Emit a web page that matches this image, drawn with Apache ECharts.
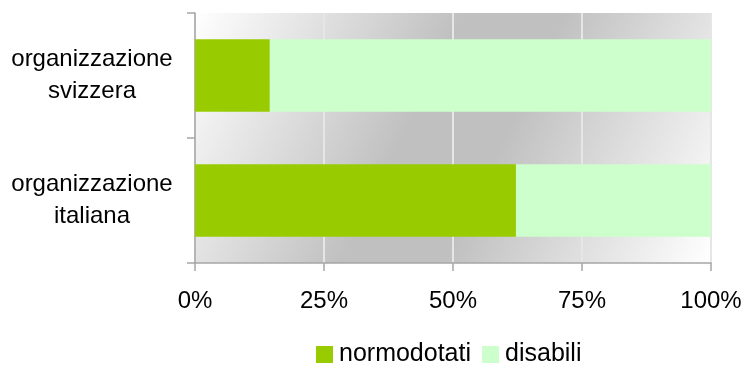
<!DOCTYPE html>
<html>
<head>
<meta charset="utf-8">
<script src="https://cdn.jsdelivr.net/npm/echarts@6/dist/echarts.min.js"></script>
<style>
  html, body { margin: 0; padding: 0; background: #ffffff; }
  #chart { width: 746px; height: 365px; }
</style>
</head>
<body>
<div id="chart"></div>
<script>
// Share of staff by organization (100% stacked)
const categories = ['organizzazione svizzera', 'organizzazione italiana'];
const seriesNames = ['normodotati', 'disabili'];
const normodotati = [14.5, 62.2];
const disabili = [85.5, 37.8];
const xTicks = [0, 25, 50, 75, 100];

const FONT = '"Liberation Sans", Arial, sans-serif';

const chart = echarts.init(document.getElementById('chart'), null, { renderer: 'canvas' });

chart.setOption({
  animation: false,
  textStyle: { fontFamily: FONT },
  grid: {
    left: 195,
    right: 35,
    top: 13,
    bottom: 102,
    show: true,
    borderWidth: 0,
    backgroundColor: {
      type: 'linear', x: 0, y: 0, x2: 1, y2: 1,
      colorStops: [
        { offset: 0, color: '#ffffff' },
        { offset: 0.42, color: '#c0c0c0' },
        { offset: 0.58, color: '#c0c0c0' },
        { offset: 1, color: '#ffffff' }
      ]
    }
  },
  legend: {
    data: seriesNames,
    left: 316,
    top: 342,
    padding: 0,
    itemWidth: 17,
    itemHeight: 17,
    itemGap: 11,
    icon: 'rect',
    textStyle: { fontFamily: FONT, fontSize: 25, color: '#000000', padding: [0, 0, 0, 1] }
  },
  xAxis: {
    type: 'value',
    min: xTicks[0],
    max: xTicks[xTicks.length - 1],
    interval: 25,
    axisLine: { show: true, lineStyle: { color: '#a6a6a6', width: 1.5 } },
    axisTick: { show: true, length: 8, lineStyle: { color: '#a6a6a6', width: 1.5 } },
    splitLine: { show: true, lineStyle: { color: '#e6e6e6', width: 2 } },
    axisLabel: {
      formatter: '{value}%',
      fontFamily: FONT,
      fontSize: 24,
      color: '#000000',
      margin: 26
    }
  },
  yAxis: {
    type: 'category',
    data: categories,
    inverse: true,
    axisLine: { show: true, lineStyle: { color: '#a6a6a6', width: 1.5 } },
    axisTick: { show: true, length: 8, lineStyle: { color: '#a6a6a6', width: 1.5 } },
    splitLine: { show: false },
    axisLabel: {
      formatter: v => v.replace(' ', '\n'),
      align: 'center',
      margin: 103,
      fontFamily: FONT,
      fontSize: 24,
      lineHeight: 32,
      color: '#000000'
    }
  },
  series: [
    {
      name: seriesNames[0],
      type: 'bar',
      stack: 'total',
      data: normodotati,
      barCategoryGap: '42%',
      itemStyle: { color: '#99cc00' }
    },
    {
      name: seriesNames[1],
      type: 'bar',
      stack: 'total',
      data: disabili,
      barCategoryGap: '42%',
      itemStyle: { color: '#ccffcc' }
    }
  ]
});
</script>
</body>
</html>
